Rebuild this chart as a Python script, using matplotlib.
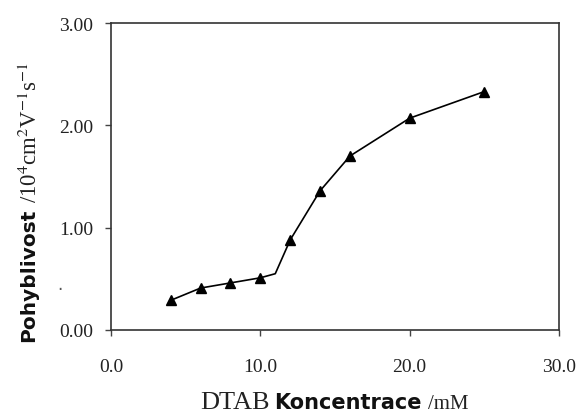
import matplotlib
matplotlib.use("Agg")
import matplotlib.pyplot as plt

# DTAB concentration (mM) vs. mobility
conc = [4.0, 6.0, 8.0, 10.0, 12.0, 14.0, 16.0, 20.0, 25.0]
mobility = [0.29, 0.41, 0.46, 0.51, 0.88, 1.36, 1.70, 2.07, 2.33]

# hand-drawn trend line (break point just past 10 mM)
trend_x = [4.0, 6.0, 8.0, 10.0, 11.0, 12.0, 14.0, 16.0, 20.0, 25.0]
trend_y = [0.29, 0.41, 0.46, 0.51, 0.55, 0.88, 1.36, 1.70, 2.07, 2.33]

xticks = [0, 10, 20, 30]
xtick_labels = ["0.0", "10.0", "20.0", "30.0"]
yticks = [0, 1, 2, 3]
ytick_labels = ["0.00", "1.00", "2.00", "3.00"]

SERIF = "Liberation Serif"
SANS = "DejaVu Sans"
INK = "#222222"

fig = plt.figure(figsize=(5.76, 4.14), dpi=100, facecolor="white")
ax = fig.add_axes([0.1927, 0.2005, 0.7778, 0.7415])

ax.plot(trend_x, trend_y, color="black", lw=1.2, zorder=2)
ax.plot(conc, mobility, ls="none", marker="^", ms=7, color="black", zorder=3)

ax.set_xlim(0, 30)
ax.set_ylim(0, 3)
ax.set_xticks(xticks)
ax.set_xticklabels(xtick_labels, family=SERIF, fontsize=14, color=INK)
ax.set_yticks(yticks)
ax.set_yticklabels(ytick_labels, family=SERIF, fontsize=14, color=INK)
ax.tick_params(axis="x", direction="out", length=4, width=1, color="#444444", pad=16)
ax.tick_params(axis="y", direction="out", length=4, width=1, color="#444444", pad=9)
for spine in ax.spines.values():
    spine.set_color("#333333")
    spine.set_linewidth(1.2)

# y label: sans-serif word, then serif units stacked right after it
word = fig.text(0.059, 0.174, "Pohyblivost", rotation=90, rotation_mode="anchor",
                ha="left", va="baseline", family=SANS, fontweight="bold",
                fontsize=14.5, color="#111111")
fig.canvas.draw()
top = fig.transFigure.inverted().transform(
    (0, word.get_window_extent().y1 + 6))[1]
fig.text(0.064, top, r"/10$^{4}$cm$^{2}$V$^{-1}$s$^{-1}$", rotation=90, rotation_mode="anchor",
         ha="left", va="baseline", family=SERIF, fontsize=16.5, color=INK,
         math_fontfamily="stix")
fig.text(0.104, 0.311, ".", ha="center", va="center", fontsize=12, color="#555555")

# x label: serif / sans / serif pieces
fig.text(200 / 576, 0.012, "DTAB", ha="left", va="baseline", family=SERIF, fontsize=19, color=INK)
fig.text(274 / 576, 0.012, "Koncentrace", ha="left", va="baseline", family=SANS,
         fontweight="bold", fontsize=15, color="#111111")
fig.text(428 / 576, 0.012, "/mM", ha="left", va="baseline", family=SERIF, fontsize=15, color=INK)

fig.savefig("out.png", dpi=100)
